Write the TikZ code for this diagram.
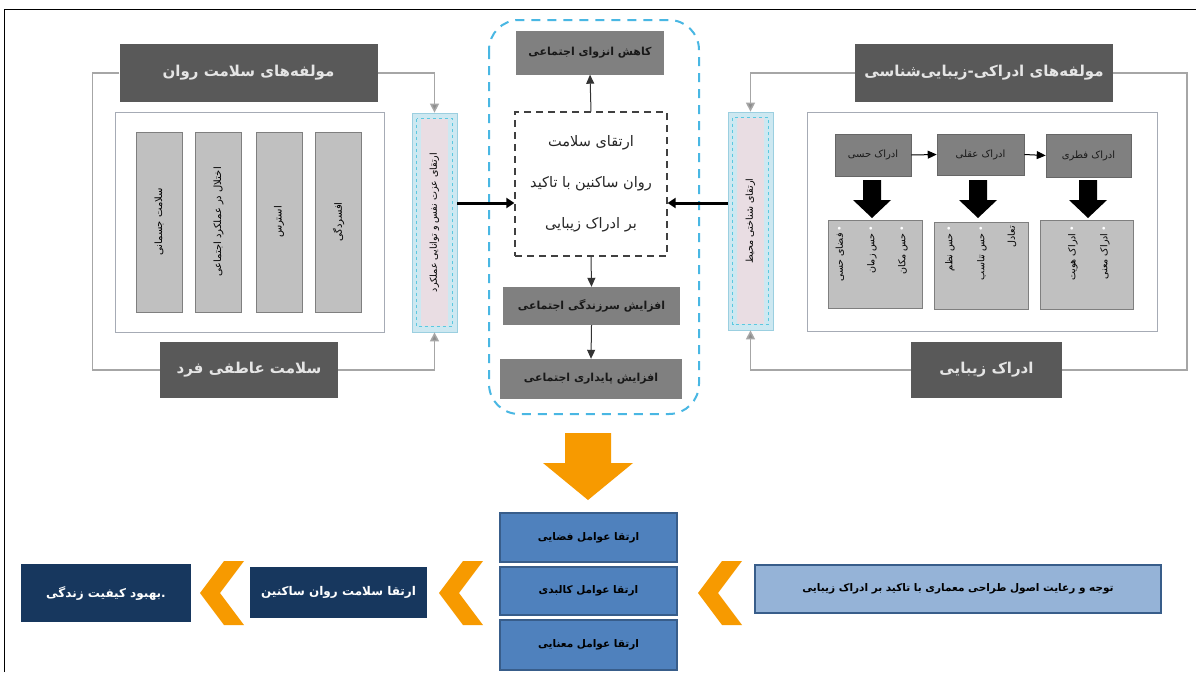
\documentclass[tikz,border=0pt]{standalone}
\usepackage{fontspec}
\newfontfamily\fa[Script=Arabic]{DejaVu Sans}
\TeXXeTstate=1
\usetikzlibrary{arrows.meta,calc}
\definecolor{cHdr}{HTML}{595959}
\definecolor{cOut}{HTML}{A6ABB5}
\definecolor{cLight}{HTML}{C0C0C0}
\definecolor{cMid}{HTML}{7F7F7F}
\definecolor{cStrip}{HTML}{CDE8F1}
\definecolor{cStripB}{HTML}{9BCFE0}
\definecolor{cPink}{HTML}{E9DDE3}
\definecolor{cDash}{HTML}{5BC8E0}
\definecolor{cSky}{HTML}{49B7E3}
\definecolor{cMidBox}{HTML}{808080}
\definecolor{cBlue}{HTML}{4F81BD}
\definecolor{cBlueB}{HTML}{385D8A}
\definecolor{cLBlue}{HTML}{95B3D7}
\definecolor{cNavy}{HTML}{17375E}
\definecolor{cOrange}{HTML}{F79A00}
\definecolor{cConn}{HTML}{A6A6A6}
\definecolor{cConnTip}{HTML}{8C8C8C}
\newcommand{\RL}[1]{\beginR #1\endR}
\tikzset{
  hdrbox/.style={fill=cHdr, text=white!90!black, inner sep=0pt, font=\fa\bfseries\fontsize{15}{18}\selectfont},
  outerbox/.style={draw=cOut, line width=1, fill=white},
  vbox/.style={fill=cLight, draw=cMid, line width=1, inner sep=0pt, font=\fa\fontsize{10}{12}\selectfont},
  stripbox/.style={fill=cStrip, draw=cStripB, line width=0.8, inner sep=0pt},
  striptext/.style={rotate=90, font=\fa\fontsize{9.5}{11}\selectfont, inner sep=0pt},
  midbox/.style={fill=cMidBox, inner sep=0pt, text=black!90, font=\fa\bfseries\fontsize{11}{13}\selectfont},
  percbox/.style={fill=cMidBox, draw=cMid!80!black, line width=0.6, inner sep=0pt, text=black!90, font=\fa\fontsize{10}{12}\selectfont},
  bulbox/.style={fill=cLight, draw=cMid, line width=1, inner sep=0pt},
  bultext/.style={rotate=90, anchor=east, inner sep=0pt, font=\fa\fontsize{9.5}{11}\selectfont},
  blubox/.style={fill=cBlue, draw=cBlueB, line width=1.5, inner sep=0pt, text=black, font=\fa\bfseries\fontsize{10.5}{12}\selectfont},
  lblubox/.style={fill=cLBlue, draw=cBlueB, line width=2, inner sep=0pt, text=black, font=\fa\bfseries\fontsize{10.5}{12}\selectfont},
  navybox/.style={fill=cNavy, inner sep=0pt, text=white, font=\fa\bfseries\fontsize{12}{14}\selectfont},
  conn/.style={draw=cConn, line width=1.5},
  connarr/.style={conn, -{Triangle[width=9,length=9,fill=cConnTip]}},
  darr/.style={draw=black!80, line width=1, -{Triangle[width=8,length=9]}},
  thickarr/.style={draw=black, line width=3, -{Triangle[width=10,length=8]}},
}
\begin{document}
\begin{tikzpicture}[x=1pt,y=-1pt]
\useasboundingbox (0,0) rectangle (1196,672);
\fill[white] (0,0) rectangle (1196,672);
% frame
\draw[line width=1.6] (4.5,672) -- (4.5,9.5) -- (1196,9.5);

% ---------------- left group
\node[outerbox, minimum width=269, minimum height=220] (outL) at (249.5,222) {};
\node[hdrbox, minimum width=258, minimum height=58] (hdrL) at (248.5,73) {\RL{مولفه‌های سلامت روان}};
\node[vbox, rotate=90, minimum width=180, minimum height=46] (v1) at (159,222) {\RL{سلامت جسمانی}};
\node[vbox, rotate=90, minimum width=180, minimum height=46] (v2) at (218.5,222) {\RL{اختلال در عملکرد اجتماعی}};
\node[vbox, rotate=90, minimum width=180, minimum height=46] (v3) at (279,222) {\RL{استرس}};
\node[vbox, rotate=90, minimum width=180, minimum height=46] (v4) at (338.5,222) {\RL{افسردگی}};
\node[hdrbox, minimum width=178, minimum height=56] (botL) at (249,370) {\RL{سلامت عاطفی فرد}};
\node[stripbox, minimum width=45, minimum height=219] (stripL) at (434.5,222.5) {};
\fill[cPink] ($(stripL.north west)+(9,6)$) rectangle ($(stripL.south east)+(-9,-6)$);
\draw[cDash, dashed, line width=0.8] ($(stripL.north west)+(5,6)$) rectangle ($(stripL.south east)+(-5,-6)$);
\node[striptext] (stripLt) at (stripL) {\RL{ارتقای عزت نفس و توانایی عملکرد}};
\draw[conn] (hdrL.west) -- ++(-27,0) |- (botL.west);
\draw[connarr] (hdrL.east) -| (stripL.north);
\draw[connarr] (botL.east) -| (stripL.south);

% ---------------- center group
\draw[cSky, line width=2, dash pattern=on 9pt off 7pt, rounded corners=30] (489,20) rectangle (699,414);
\node[midbox, minimum width=148, minimum height=44] (topC) at (590,52.5) {\RL{کاهش انزوای اجتماعی}};
\node[draw=black!75, line width=1.2, dash pattern=on 7pt off 5pt, fill=white, minimum width=152, minimum height=144, align=center, text=black!85, font=\fa\fontsize{14.5}{41}\selectfont] (cbox) at (591,184) {\RL{ارتقای سلامت}\\\RL{روان ساکنین با تاکید}\\\RL{بر ادراک زیبایی}};
\node[midbox, minimum width=177, minimum height=38] (midC1) at (591.5,306) {\RL{افزایش سرزندگی اجتماعی}};
\node[midbox, minimum width=182, minimum height=40] (midC2) at (591,379) {\RL{افزایش پایداری اجتماعی}};
\draw[darr] (cbox.north) -- (topC.south);
\draw[darr] (cbox.south) -- (midC1.north);
\draw[darr] (midC1.south) -- (midC2.north);

% ---------------- right group
\node[outerbox, minimum width=350, minimum height=219] (outR) at (982,221.5) {};
\node[hdrbox, minimum width=258, minimum height=58] (hdrR) at (984,73) {\RL{مولفه‌های ادراکی-زیبایی‌شناسی}};
\node[percbox, minimum width=76, minimum height=42] (pH) at (873,155) {\RL{ادراک حسی}};
\node[percbox, minimum width=87, minimum height=41] (pA) at (980.5,154.5) {\RL{ادراک عقلی}};
\node[percbox, minimum width=85, minimum height=43] (pF) at (1088.5,155.5) {\RL{ادراک فطری}};
\draw[draw=black, line width=1, -{Triangle[width=8,length=9]}] (pH.east) -- (pA.west);
\draw[draw=black, line width=1, -{Triangle[width=8,length=9]}] (pA.east) -- (pF.west);
\foreach \cx in {872,978,1088}{
  \fill[black] (\cx-9,180) -- (\cx+9,180) -- (\cx+9,200) -- (\cx+19,200) -- (\cx,218) -- (\cx-19,200) -- (\cx-9,200) -- cycle;
}
\node[bulbox, minimum width=94, minimum height=88] (bH) at (875,264) {};
\node[bulbox, minimum width=94, minimum height=87] (bA) at (981,265.5) {};
\node[bulbox, minimum width=93, minimum height=89] (bF) at (1086.5,264.5) {};
\node[bultext] (bH1) at (840,226) {\RL{\textcolor{cMid}{•}\,فضای حسی}};
\node[bultext] (bH2) at (872,226) {\RL{\textcolor{cMid}{•}\,حس زمان}};
\node[bultext] (bH3) at (903,226) {\RL{\textcolor{cMid}{•}\,حس مکان}};
\node[bultext] (bA1) at (950,226) {\RL{\textcolor{cMid}{•}\,حس نظم}};
\node[bultext] (bA2) at (982,226) {\RL{\textcolor{cMid}{•}\,حس تناسب}};
\node[bultext] (bA3) at (1012,226) {\RL{تعادل}};
\node[bultext] (bF1) at (1073,226) {\RL{\textcolor{cMid}{•}\,ادراک هویت}};
\node[bultext] (bF2) at (1105,226) {\RL{\textcolor{cMid}{•}\,ادراک معنی}};
\node[hdrbox, minimum width=151, minimum height=56] (botR) at (986.5,370) {\RL{ادراک زیبایی}};
\node[stripbox, minimum width=45, minimum height=218] (stripR) at (750.5,221) {};
\fill[cPink] ($(stripR.north west)+(9,6)$) rectangle ($(stripR.south east)+(-9,-6)$);
\draw[cDash, dashed, line width=0.8] ($(stripR.north west)+(5,6)$) rectangle ($(stripR.south east)+(-5,-6)$);
\node[striptext] (stripRt) at (stripR) {\RL{ارتقای شناختی محیط}};
\draw[connarr] (hdrR.west) -| (stripR.north);
\draw[conn] (hdrR.east) -- ++(74,0) |- (botR.east);
\draw[connarr] (botR.west) -| (stripR.south);

% thick arrows into centre
\coordinate (yA) at (0,203);
\draw[thickarr] (stripL.east |- yA) -- (cbox.west |- yA);
\draw[thickarr] (stripR.west |- yA) -- (cbox.east |- yA);

% ---------------- bottom
\fill[cOrange] (565,433) -- (611,433) -- (611,463) -- (633,463) -- (588,500) -- (543,463) -- (565,463) -- cycle;
\node[blubox, minimum width=177, minimum height=49] (f1) at (588.5,537.5) {\RL{ارتقا عوامل فضایی}};
\node[blubox, minimum width=177, minimum height=48] (f2) at (588.5,591) {\RL{ارتقا عوامل کالبدی}};
\node[blubox, minimum width=177, minimum height=50] (f3) at (588.5,645) {\RL{ارتقا عوامل معنایی}};
\node[lblubox, minimum width=406, minimum height=48] (src) at (958,589) {\RL{توجه و رعایت اصول طراحی معماری با تاکید بر ادراک زیبایی}};
\node[navybox, minimum width=177, minimum height=51] (res) at (338.5,592) {\RL{ارتقا سلامت روان ساکنین}};
\node[navybox, minimum width=170, minimum height=58] (qol) at (106,593) {\RL{.بهبود کیفیت زندگی}};
\foreach \L in {200,439,698}{
  \fill[cOrange] (\L+24,561) -- (\L+44,561) -- (\L+20,593) -- (\L+44,625) -- (\L+24,625) -- (\L,593) -- cycle;
}
\end{tikzpicture}
\end{document}
